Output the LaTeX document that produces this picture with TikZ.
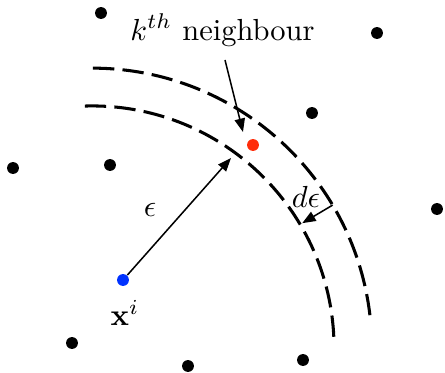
\documentclass[tikz,border=0pt]{standalone}
\usetikzlibrary{arrows.meta}
\definecolor{dotred}{RGB}{255,45,10}
\definecolor{dotblue}{RGB}{0,50,255}
\begin{document}
\begin{tikzpicture}[x=0.328pt,y=0.328pt,
  dot/.style={circle,fill=#1,inner sep=0pt,minimum size=3.9pt},
  dot/.default=black,
  shell/.style={line width=1pt,dash pattern=on 7pt off 2.7pt},
  pointer/.style={line width=0.5pt,-{Triangle[length=4.4pt,width=3.4pt]}},
  lbl/.style={inner sep=0pt}]
\useasboundingbox (0,0) rectangle (445,373);
% centre of the shells
\coordinate (c) at (92,25);
% shells
\draw[shell] (c) ++(91.7:79.4pt) arc[start angle=91.7,end angle=2.1,radius=79.4pt];
\draw[shell] (c) ++(89.8:91.8pt) arc[start angle=89.8,end angle=5.4,radius=91.8pt];
% points
\node[dot] (p1) at (101,360) {};
\node[dot] (p2) at (377,340) {};
\node[dot] (p3) at (312,260) {};
\node[dot] (p4) at (13,205) {};
\node[dot] (p5) at (110,208) {};
\node[dot] (p6) at (437,164) {};
\node[dot] (p7) at (72,30) {};
\node[dot] (p8) at (188,7) {};
\node[dot] (p9) at (303,13) {};
\node[dot=dotred] (kn) at (253,228) {};
\node[dot=dotblue] (xi) at (123,93) {};
% labels
\node[lbl,anchor=base] (ktext) at (222.5,333) {$k^{th}$ neighbour};
\node[lbl] (eps) at (150,163) {$\epsilon$};
\node[lbl] (xlab) at (125,60) {$\mathbf{x}^i$};
\node[lbl] (deps) at (306,176) {$d\epsilon$};
% connectors
\coordinate (epstip) at (231,215);
\coordinate (kstart) at (225,313);
\coordinate (ktip) at (243,241);
\path (c) ++(30.7:91.8pt) coordinate (dstart);
\path (c) ++(30.7:80.2pt) coordinate (dtip);
\draw[pointer] (xi) -- (epstip);
\draw[pointer] (kstart) -- (ktip);
\draw[pointer] (dstart) -- (dtip);
\end{tikzpicture}
\end{document}
